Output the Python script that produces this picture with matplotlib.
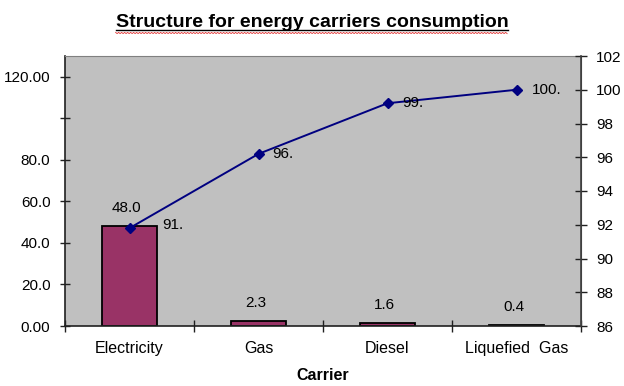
import matplotlib.pyplot as plt
import numpy as np
from matplotlib.lines import Line2D

plt.rcParams['font.family'] = ['Liberation Sans', 'DejaVu Sans']

carriers = ['Electricity', 'Gas', 'Diesel', 'Liquefied  Gas']
consumption = [48.0, 2.3, 1.6, 0.4]
bar_labels = ['48.0', '2.3', '1.6', '0.4']
cumulative = [91.8, 96.2, 99.2, 100.0]
cum_labels = ['91.', '96.', '99.', '100.']

left_ticks = [0, 20, 40, 60, 80, 100, 120]
left_ticklabels = ['0.00', '20.0', '40.0', '60.0', '80.0', '', '120.00']
right_ticks = [86, 88, 90, 92, 94, 96, 98, 100, 102]

# label offsets (pixels) for the cumulative labels
cum_offsets = [(33, 3), (14, 0), (15, 0), (15, 0)]

W, H = 624, 386
FS = 11
fig = plt.figure(figsize=(W / 100, H / 100), dpi=100)
ax = fig.add_axes([65 / W, 1 - 326 / H, (581 - 65) / W, (326 - 56) / H])
ax.set_facecolor('#C0C0C0')

x = np.arange(len(carriers))
ax.bar(x, consumption, width=0.42, color='#993366', edgecolor='black', linewidth=1.3, zorder=2)
for xi, v, lab in zip(x, consumption, bar_labels):
    ax.annotate(lab, (xi, v), xytext=(-2, 13), textcoords='offset points',
                ha='center', va='center', fontsize=FS, color='black')

ax.set_xlim(-0.5, len(carriers) - 0.5)
ax.set_ylim(0, 130)
ax.set_yticks(left_ticks)
ax.set_yticklabels(left_ticklabels)
ax.set_xticks(x)
ax.set_xticklabels(carriers)
ax.set_xticks(np.arange(len(carriers) + 1) - 0.5, minor=True)
ax.tick_params(axis='x', which='major', length=0, pad=11, labelsize=11.5)
ax.tick_params(axis='x', which='minor', direction='inout', length=9, width=1, color='#202020')
ax.tick_params(axis='y', direction='inout', length=7, width=1, pad=7, labelsize=FS, color='#202020')

for s in ['left', 'bottom']:
    ax.spines[s].set_color('#202020')
    ax.spines[s].set_linewidth(1.2)
ax.spines['top'].set_color('#808080')
ax.spines['right'].set_color('#404040')

ax2 = ax.twinx()
ax2.plot(x, cumulative, color='#000080', linewidth=1.4, marker='D', markersize=5.5, zorder=3)
ax2.set_ylim(86, 102)
ax2.set_yticks(right_ticks)
ax2.tick_params(axis='y', direction='inout', length=8, width=1, pad=7, labelsize=FS, color='#202020')
for s in ['left', 'bottom', 'top']:
    ax2.spines[s].set_visible(False)
ax2.spines['right'].set_color('#404040')
ax2.spines['right'].set_linewidth(1.2)
for xi, v, lab, off in zip(x, cumulative, cum_labels, cum_offsets):
    ax2.annotate(lab, (xi, v), xytext=(off[0] * 0.72, off[1] * 0.72), textcoords='offset points',
                 ha='left', va='center', fontsize=FS, color='black')

title = fig.text(0.5, 1 - 27 / H, 'Structure for energy carriers consumption',
                 ha='center', va='baseline', fontsize=14, fontweight='bold')
fig.text((65 + 581) / 2 / W, 1 - 376 / H, 'Carrier', ha='center', va='center',
         fontsize=11.5, fontweight='bold')

# underline + spell-check squiggle under the title
fig.canvas.draw()
bb = title.get_window_extent()
x0, x1 = bb.x0 / W, bb.x1 / W
yu = 1 - 30 / H
fig.add_artist(Line2D([x0, x1], [yu, yu], color='black', linewidth=1.0, transform=fig.transFigure))
zx = np.arange(bb.x0, bb.x1, 1.5)
zy = (H - 33) + np.where(np.arange(len(zx)) % 2 == 0, 0.6, -0.6)
fig.add_artist(Line2D(zx / W, zy / H, color='#E03030', linewidth=0.6, transform=fig.transFigure))

fig.savefig('out.png', dpi=100, facecolor='white')
